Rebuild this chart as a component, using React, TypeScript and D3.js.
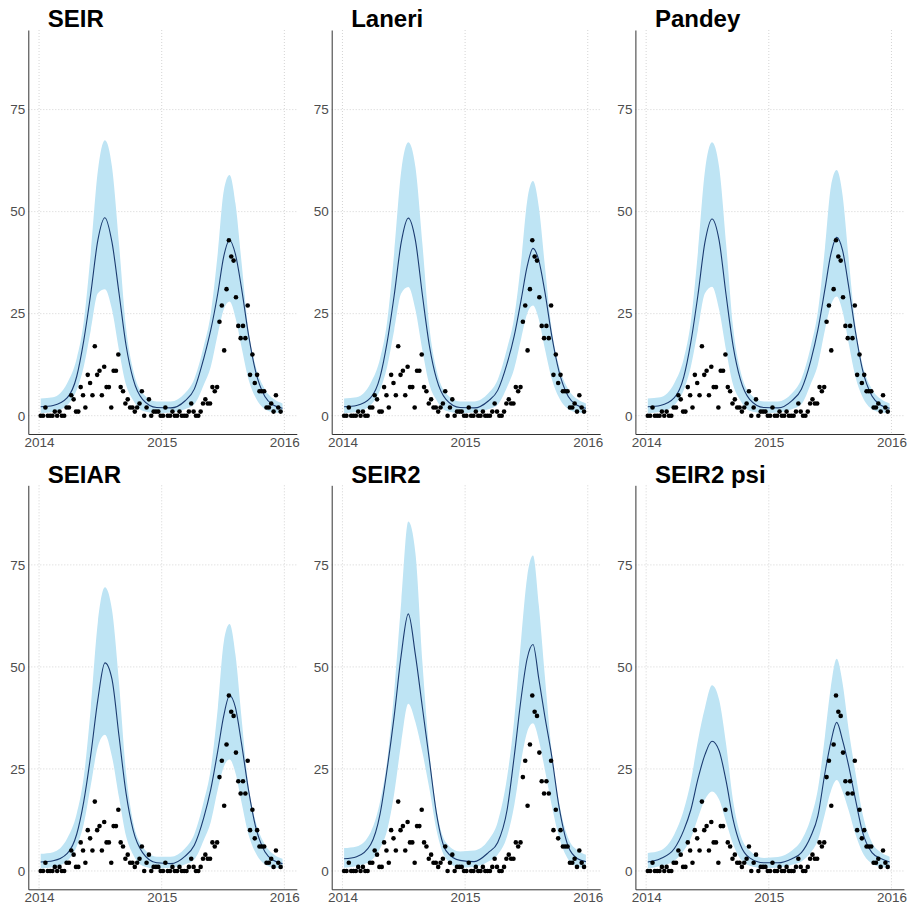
import React, { useEffect, useRef } from "react";
import * as d3 from "d3";

// observed weekly cases, one point per week from the first week of 2014
const weeklyCases = [
  0, 0, 2, 0, 0, 0, 1, 0, 1, 0, 0, 2, 2, 5, 4, 1, 1, 7, 5, 2, 10, 8, 5, 17, 10, 11, 5, 12, 7, 7,
  2, 11, 11, 15, 7, 6, 3, 4, 2, 2, 1, 2, 3, 6, 0, 2, 4, 0, 1, 1, 1, 0, 0, 2, 0, 0, 1, 0, 0, 1,
  0, 0, 0, 1, 3, 1, 0, 0, 1, 3, 4, 3, 3, 7, 6, 7, 23, 27, 16, 31, 43, 39, 38, 29, 22, 19, 22, 19,
  27, 10, 15, 8, 10, 6, 6, 6, 2, 2, 3, 1, 5, 2, 1,
];
const firstCaseWeek = 0.7;

// weeks (since 1 Jan 2014) at which the model curves were read
const curveWeeks = [
  0.7, 6, 12, 16, 19, 22, 25, 28, 31, 34, 37, 40, 44, 50, 56, 62, 66, 70, 73, 76, 78.5, 81, 83.5,
  86, 89, 92, 96, 100, 103.5,
];

const modelNames = ["SEIR", "Laneri", "Pandey", "SEIAR", "SEIR2", "SEIR2 psi"];

const seirMed = [2.2, 2.5, 4.4, 9.6, 18.4, 30, 43, 48.5, 42.5, 30, 17.2, 9, 4, 2, 1.9, 3.6, 6.5, 14, 21, 30, 39, 43, 39.5, 31.5, 20, 11, 4.7, 2.5, 1.8];
const seirHi = [4.2, 4.5, 8, 14, 23, 40, 60, 67.5, 61, 42, 21.5, 11.2, 5.5, 3.5, 3.5, 5.5, 9, 17, 25, 40, 55, 59, 52, 38, 21, 12.3, 6.5, 4, 3];
const seirLo = [0.6, 0.9, 2.6, 6.3, 12, 21, 30, 31, 26, 16, 7.5, 3.8, 1.2, 0.6, 0.8, 1.6, 2.8, 7.5, 12, 20, 26, 28, 24, 17, 9, 4.5, 1.6, 0.8, 0.6];

const laneriMed = [2.2, 2.5, 4.4, 9.5, 18, 29.5, 42.5, 48.4, 43, 29.5, 17, 9, 4, 2, 1.9, 3.6, 6.2, 12.8, 19.5, 28.5, 36.5, 41, 38, 30.5, 19.5, 11, 4.7, 2.5, 1.8];
const laneriHi = [4.2, 4.5, 8, 14, 23, 40, 60, 67, 61, 42, 21.5, 11.2, 5.5, 3.5, 3.5, 5.5, 8.8, 16.5, 24, 38, 52.5, 57.5, 51, 37, 21, 12.3, 6.5, 4, 3];
const laneriLo = [0.6, 0.9, 2.6, 6.3, 12, 21, 30, 31.5, 26, 16, 7.5, 3.8, 1.2, 0.6, 0.8, 1.6, 2.7, 7, 11.5, 19, 25, 27, 23.5, 16.5, 9, 4.5, 1.6, 0.8, 0.6];

const pandeyMed = [2.2, 2.5, 4.4, 9.5, 18, 29.5, 42.5, 48.2, 43, 29.5, 17, 9, 4, 2, 1.9, 3.7, 6.5, 13.5, 21, 31, 39.5, 43.7, 40.5, 32, 20.5, 11.2, 4.8, 2.5, 1.8];
const pandeyHi = [4.2, 4.5, 8, 14, 23, 40, 60, 67, 61, 42, 21.5, 11.2, 5.5, 3.5, 3.5, 5.5, 9, 17, 25.5, 41, 56, 60.2, 54, 39, 22, 12.5, 6.5, 4, 3];
const pandeyLo = [0.6, 0.9, 2.6, 6.3, 12, 21, 30, 31.6, 26, 16, 7.5, 3.8, 1.2, 0.6, 0.8, 1.6, 2.8, 7.8, 12.5, 21, 27, 29.2, 25.5, 18, 9.5, 4.6, 1.6, 0.8, 0.6];

const seiarMed = [2.2, 2.5, 4.3, 9, 17, 28.5, 42, 51, 47, 33, 19, 10, 4.5, 2, 1.8, 3.6, 6.3, 13, 20, 29.5, 38, 43, 40, 31.5, 20, 11, 4.7, 2.5, 1.8];
const seiarHi = [4.2, 4.6, 8, 14, 23, 40, 61, 69.5, 64, 46, 24, 12, 6, 3.5, 3.5, 5.5, 9, 17, 25, 40, 56, 60.5, 53, 38, 21, 12.3, 6.5, 4, 3];
const seiarLo = [0.6, 0.9, 2.5, 6, 11.5, 21, 30.5, 33.4, 28, 18, 8.5, 4, 1.3, 0.6, 0.8, 1.6, 2.8, 7.5, 12, 20, 25.5, 27.3, 24, 17, 9, 4.5, 1.6, 0.8, 0.6];

const seir2Med = [3, 3.5, 6.5, 14, 25, 38, 53, 63, 53, 40, 27, 14, 5, 2.6, 2.3, 4.5, 7, 15, 28, 42.5, 52, 55.5, 47, 38, 28, 16, 6, 3, 2.3];
const seir2Hi = [5.6, 6, 9.5, 17, 27, 44, 66, 85.6, 78, 51, 29, 15, 7, 4.8, 5, 7.5, 12, 23, 37, 57, 72, 77.3, 65, 48, 29, 17, 8, 5, 4];
const seir2Lo = [0.8, 1.2, 2.5, 5.5, 10, 19, 31.5, 41, 36.5, 29, 20, 10, 3, 0.8, 1, 2.3, 4, 8.5, 16, 27, 34, 36.2, 32, 25, 16, 8.5, 2.8, 1, 0.8];

const psiMed = [2.2, 3, 5.5, 10, 15, 22.5, 28.5, 31.8, 29.5, 22, 12.5, 6.5, 3.2, 2, 2, 3, 4.5, 8.5, 13.5, 24, 31.5, 36.4, 32, 26, 17.5, 9.5, 4.5, 3, 2.2];
const psiHi = [4.4, 5, 9, 15, 22, 32, 40, 45.5, 42, 31, 17, 9, 5, 3.2, 3.4, 5, 7.5, 13, 20, 33, 45, 52, 46, 35, 24, 14, 7, 4.5, 3.5];
const psiLo = [0.6, 1.2, 2.5, 5, 8, 13, 17.5, 19.5, 17.5, 12, 6.5, 3, 1.3, 0.7, 0.8, 1.5, 2.3, 4.5, 7.5, 14, 19.5, 22.3, 19.5, 15, 9, 4.5, 1.8, 1, 0.7];

const medians = [seirMed, laneriMed, pandeyMed, seiarMed, seir2Med, psiMed];
const uppers = [seirHi, laneriHi, pandeyHi, seiarHi, seir2Hi, psiHi];
const lowers = [seirLo, laneriLo, pandeyLo, seiarLo, seir2Lo, psiLo];

const yTicks = [0, 25, 50, 75];
const yearTicks = [2014, 2015, 2016];

const FONT = "'Liberation Sans', Arial, Helvetica, sans-serif";
const start = Date.UTC(2014, 0, 1);
const weekToDate = (w: number) => new Date(start + w * 7 * 864e5);

const App = () => {
  const svgRef = useRef<SVGSVGElement>(null);

  useEffect(() => {
    const svg = d3.select(svgRef.current);
    svg.selectAll("*").remove();

    const colLefts = [28.3, 331.7, 635.4];
    const rowTops = [30, 485.3];
    const plotW = 268.5;
    const plotH = 404;

    modelNames.forEach((name, k) => {
      const left = colLefts[k % 3];
      const top = rowTops[Math.floor(k / 3)];
      const bottom = top + plotH;
      const right = left + plotW;

      const x = d3
        .scaleUtc()
        .domain([new Date(Date.UTC(2013, 10, 30)), new Date(Date.UTC(2016, 1, 7))])
        .range([left, right]);
      const y = d3.scaleLinear().domain([-4.49, 94.5]).range([bottom, top]);

      const g = svg.append("g");

      // dotted grid
      g.selectAll("line.hgrid")
        .data(yTicks)
        .enter()
        .append("line")
        .attr("x1", left)
        .attr("x2", right)
        .attr("y1", d => y(d))
        .attr("y2", d => y(d))
        .attr("stroke", "#c9c9c9")
        .attr("stroke-width", 0.8)
        .attr("stroke-dasharray", "1,2");
      g.selectAll("line.vgrid")
        .data(yearTicks)
        .enter()
        .append("line")
        .attr("x1", d => x(new Date(Date.UTC(d, 0, 1))))
        .attr("x2", d => x(new Date(Date.UTC(d, 0, 1))))
        .attr("y1", top)
        .attr("y2", bottom)
        .attr("stroke", "#c9c9c9")
        .attr("stroke-width", 0.8)
        .attr("stroke-dasharray", "1,2");

      const band = curveWeeks.map((w, i) => ({
        date: weekToDate(w),
        med: medians[k][i],
        lo: lowers[k][i],
        hi: uppers[k][i],
      }));

      const area = d3
        .area<any>()
        .x(d => x(d.date))
        .y0(d => y(d.lo))
        .y1(d => y(d.hi))
        .curve(d3.curveMonotoneX);
      g.append("path").datum(band).attr("d", area).attr("fill", "#bee4f4");

      const line = d3
        .line<any>()
        .x(d => x(d.date))
        .y(d => y(d.med))
        .curve(d3.curveMonotoneX);
      g.append("path")
        .datum(band)
        .attr("d", line)
        .attr("fill", "none")
        .attr("stroke", "#1b3b70")
        .attr("stroke-width", 1.1);

      g.selectAll("circle")
        .data(weeklyCases)
        .enter()
        .append("circle")
        .attr("cx", (d, i) => x(weekToDate(firstCaseWeek + i)))
        .attr("cy", d => y(d))
        .attr("r", 2.3)
        .attr("fill", "#000");

      // axes
      const yAxis = g
        .append("g")
        .attr("transform", `translate(${left},0)`)
        .call(d3.axisLeft(y).tickValues(yTicks).tickSize(0).tickPadding(3));
      const xAxis = g
        .append("g")
        .attr("transform", `translate(0,${bottom})`)
        .call(
          d3
            .axisBottom(x)
            .tickValues(yearTicks.map(yr => new Date(Date.UTC(yr, 0, 1))))
            .tickFormat(d3.utcFormat("%Y") as any)
            .tickSize(0)
            .tickPadding(3)
        );
      [yAxis, xAxis].forEach(a => {
        a.select(".domain").attr("stroke", "#333").attr("stroke-width", 1);
        a.selectAll("text")
          .style("font-family", FONT)
          .style("font-size", "13.5px")
          .attr("fill", "#4d4d4d");
      });

      g.append("text")
        .attr("x", left + 19.5)
        .attr("y", top - 2.7)
        .text(name)
        .attr("fill", "#000")
        .style("font-family", FONT)
        .style("font-weight", "700")
        .style("font-size", "24px");
    });
  }, []);

  return (
    <svg
      ref={svgRef}
      width={908}
      height={905}
      style={{ position: "absolute", left: 0, top: 0, display: "block", background: "#fff" }}
    />
  );
};

export default App;
